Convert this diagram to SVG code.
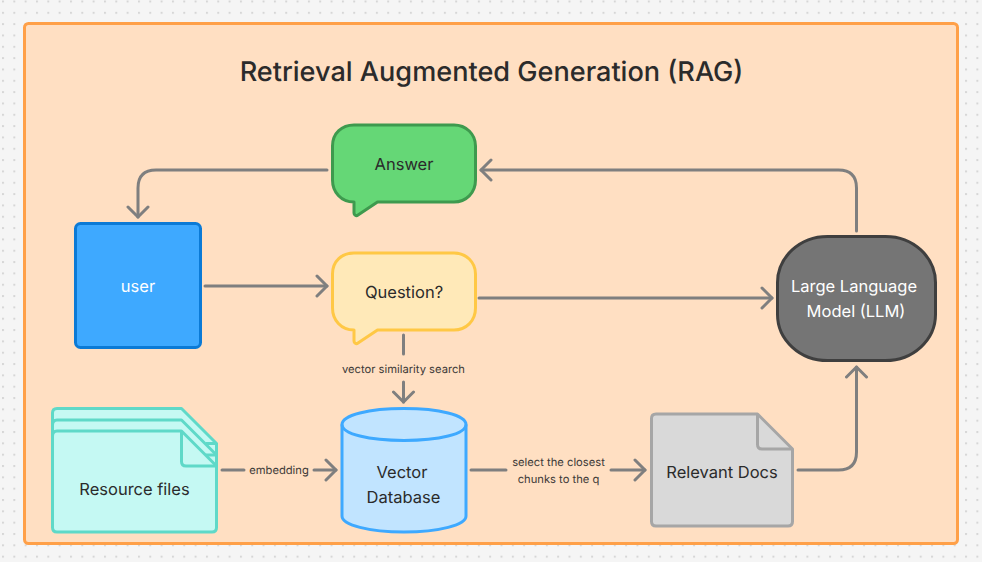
<svg xmlns="http://www.w3.org/2000/svg" width="982" height="562" viewBox="0 0 982 562">
<style>
text{font-family:Inter,"Noto Sans","Liberation Sans",sans-serif;text-anchor:middle;fill:#2b2b2b;text-rendering:geometricPrecision}
.n{font-size:16.500px}
.l{font-size:11.200px;fill:#3d3a38}
.c{fill:none;stroke:#7f7f7f;stroke-width:3;stroke-linecap:round;stroke-linejoin:round}
.s{stroke-width:3;stroke-linejoin:round}
</style>
<defs>
<pattern id="dots" x="2" y="0.5" width="11.33" height="11.33" patternUnits="userSpaceOnUse"><rect width="2" height="2" fill="#d6d6d6"/></pattern>
<marker id="a" markerUnits="userSpaceOnUse" viewBox="-12 -12 14 24" refX="0" refY="0" markerWidth="14" markerHeight="24" orient="auto"><path d="M-10 -10L0 0L-10 10" fill="none" stroke="#7f7f7f" stroke-width="3" stroke-linecap="round" stroke-linejoin="round"/></marker>
</defs>
<rect width="982" height="562" fill="#f5f5f5"/>
<rect width="982" height="562" fill="url(#dots)"/>
<g id="frame"><rect x="24.500" y="23.500" width="933" height="520" rx="4" fill="#ffdfc2" stroke="#ffa048" stroke-width="3"/></g>
<text x="491.500" y="81" font-size="27.100" font-weight="500" id="title">Retrieval Augmented Generation (RAG)</text>
<g id="connectors">
<path class="c" d="M327 170H156Q138 170 138 188V217" marker-end="url(#a)"/>
<path class="c" d="M856.500 231V188Q856.500 170 838.500 170H481" marker-end="url(#a)"/>
<path class="c" d="M205 286H327" marker-end="url(#a)"/>
<path class="c" d="M479 298H772" marker-end="url(#a)"/>
<path class="c" d="M403.500 335V354"/>
<path class="c" d="M403.500 382V402" marker-end="url(#a)"/>
<path class="c" d="M222 470H244"/>
<path class="c" d="M314 470H336" marker-end="url(#a)"/>
<path class="c" d="M471 470H506"/>
<path class="c" d="M611 470H645" marker-end="url(#a)"/>
<path class="c" d="M798 470H838.500Q856.500 470 856.500 452V367" marker-end="url(#a)"/>
<text class="l" x="403.500" y="373">vector similarity search</text>
<text class="l" x="279" y="474">embedding</text>
<text class="l" x="558.500" y="466">select the closest</text>
<text class="l" x="558.500" y="483">chunks to the q</text>
</g>
<g id="answer">
<path class="s" d="M354 202C341 202 332.500 192 332.500 180V146C332.500 133 342 125 354 125H454C466 125 475.500 134 475.500 146V180C475.500 193 466 202 454 202H377.500L358 215C356 216.500 354 215 354 213Z" fill="#65d776" stroke="#3e9a4e"/>
<text class="n" x="404" y="169.500">Answer</text>
</g>
<g id="question">
<path class="s" d="M354 330C341 330 332.500 320 332.500 308V274C332.500 261 342 253 354 253H454C466 253 475.500 262 475.500 274V308C475.500 321 466 330 454 330H377.500L358 343C356 344.500 354 343 354 341Z" fill="#ffe9b8" stroke="#ffc845"/>
<text class="n" x="404" y="297.500">Question?</text>
</g>
<g id="user">
<rect class="s" x="75.500" y="223.500" width="125" height="124" rx="5" fill="#3ea9ff" stroke="#0b7ad6"/>
<text class="n" x="138" y="291.500" style="fill:#fff">user</text>
</g>
<g id="llm">
<rect class="s" x="777.500" y="236.500" width="158" height="124" rx="50" ry="46" fill="#757575" stroke="#3f3f3f"/>
<text class="n" x="854" y="292" style="fill:#fff">Large Language</text>
<text class="n" x="856" y="317" style="fill:#fff">Model (LLM)</text>
</g>
<g id="resource-files">
<path class="s" d="M52.500 436V413Q52.500 408.500 57 408.500H181.500L216.500 443.500V470H52.500Z" fill="#c5f9f3" stroke="#5fd9c8"/>
<path class="s" d="M206 443.500H216.500" fill="none" stroke="#5fd9c8"/>
<path class="s" d="M52.500 436V425Q52.500 420 57 420H181.500L216.500 455V470H52.500Z" fill="#c5f9f3" stroke="#5fd9c8"/>
<path class="s" d="M206 455H216.500" fill="none" stroke="#5fd9c8"/>
<path class="s" d="M52.500 436Q52.500 431 57 431H181.500L216.500 466V527.500Q216.500 532 212 532H57Q52.500 532 52.500 527.500Z" fill="#c5f9f3" stroke="#5fd9c8"/>
<path class="s" d="M181.500 431V461.500Q181.500 466 186 466H216.500" fill="none" stroke="#5fd9c8"/>
<text class="n" x="134.500" y="494.500">Resource files</text>
</g>
<g id="vector-database">
<path class="s" d="M342 424.500C342 415 369 408.500 404 408.500C439 408.500 466 415 466 424.500V516C466 525 439 532 404 532C369 532 342 525 342 516Z" fill="#c1e4ff" stroke="#3ea9ff"/>
<path class="s" d="M342 424.500C342 434 369 440.500 404 440.500C439 440.500 466 434 466 424.500" fill="none" stroke="#3ea9ff"/>
<text class="n" x="402" y="477.500">Vector</text>
<text class="n" x="403.500" y="502.500">Database</text>
</g>
<g id="relevant-docs">
<path class="s" d="M651.500 418.500Q651.500 414 656 414H757.500L792.500 449V521.500Q792.500 526 788 526H656Q651.500 526 651.500 521.500Z" fill="#d9d9d9" stroke="#a6a6a6"/>
<path class="s" d="M757.500 414V444.500Q757.500 449 762 449H792.500" fill="none" stroke="#a6a6a6"/>
<text class="n" x="722" y="477.500">Relevant Docs</text>
</g>
</svg>
